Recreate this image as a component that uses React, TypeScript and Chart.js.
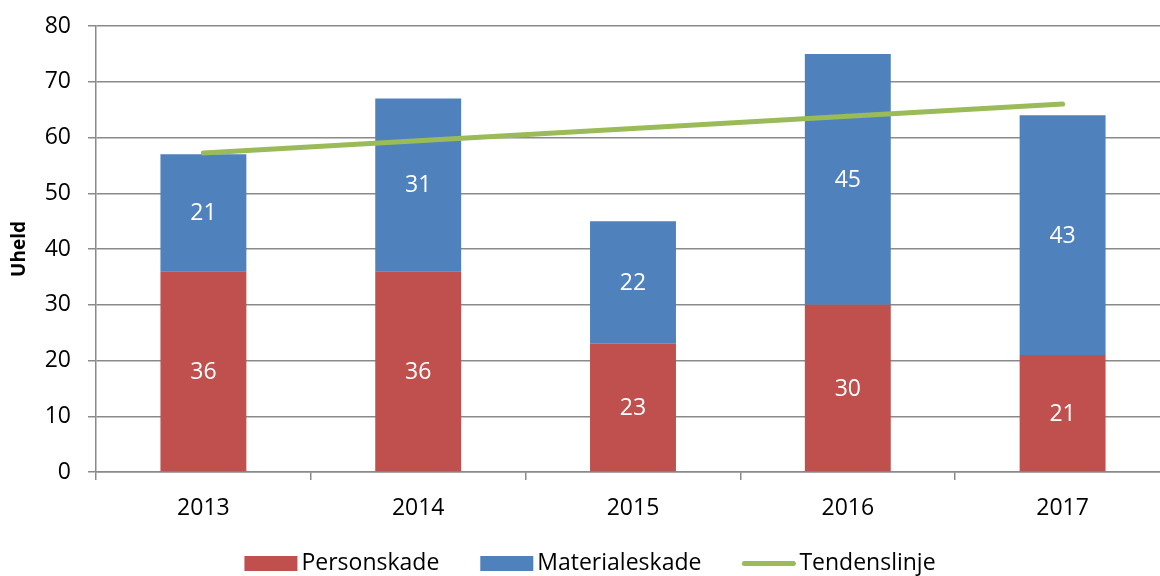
import React, { useEffect, useRef } from "react";
import { Chart, registerables } from "chart.js";

Chart.register(...registerables);

const years = ["2013", "2014", "2015", "2016", "2017"];
const personskade = [36, 36, 23, 30, 21];
const materialeskade = [21, 31, 22, 45, 43];
const tendenslinje = [57.2, 59.4, 61.6, 63.8, 66.0];
const yTicks = [0, 10, 20, 30, 40, 50, 60, 70, 80];

const RED = "#C0504D";
const BLUE = "#4F81BD";
const GREEN = "#9BBB59";
const GRID = "#8a8a8a";
const FONT = "'Open Sans', sans-serif";

const labelPlugin = {
  id: "segLabels",
  afterDatasetsDraw(chart: any) {
    const ctx = chart.ctx;
    ctx.save();
    ctx.fillStyle = "#ffffff";
    ctx.font = `23px ${FONT}`;
    ctx.textAlign = "center";
    ctx.textBaseline = "middle";
    chart.data.datasets.forEach((ds: any, di: number) => {
      if (ds.type !== "bar") return;
      const meta = chart.getDatasetMeta(di);
      meta.data.forEach((el: any, i: number) => {
        const p = el.getProps(["x", "y", "base"], true);
        ctx.fillText(String(ds.data[i]), p.x, (p.y + p.base) / 2 + 1);
      });
    });
    ctx.restore();
  },
};

const legendPlugin = {
  id: "customLegend",
  afterDraw(chart: any) {
    const ctx = chart.ctx;
    ctx.save();
    ctx.font = `23px ${FONT}`;
    ctx.textBaseline = "middle";
    const items = chart.data.datasets.map((ds: any) => ({
      text: ds.label,
      color: ds.type === "line" ? ds.borderColor : ds.backgroundColor,
      line: ds.type === "line",
    }));
    const symW = 53;
    const gap = 4;
    const spacing = 41;
    let total = 0;
    items.forEach((it: any, i: number) => {
      total += symW + gap + ctx.measureText(it.text).width;
      if (i < items.length - 1) total += spacing;
    });
    let x = 590 - total / 2;
    const cy = 563.5;
    items.forEach((it: any) => {
      if (it.line) {
        ctx.strokeStyle = it.color;
        ctx.lineWidth = 5;
        ctx.lineCap = "round";
        ctx.beginPath();
        ctx.moveTo(x + 2, cy);
        ctx.lineTo(x + symW - 2, cy);
        ctx.stroke();
      } else {
        ctx.fillStyle = it.color;
        ctx.fillRect(x, cy - 7.5, symW, 15);
      }
      x += symW + gap;
      ctx.fillStyle = "#000000";
      ctx.fillText(it.text, x, cy);
      x += ctx.measureText(it.text).width + spacing;
    });
    ctx.restore();
  },
};

export default function App() {
  const ref = useRef<HTMLCanvasElement | null>(null);
  useEffect(() => {
    if (!ref.current) return;
    const chart = new Chart(ref.current, {
      type: "bar",
      data: {
        labels: years,
        datasets: [
          {
            type: "bar",
            label: "Personskade",
            data: personskade,
            backgroundColor: RED,
            stack: "s",
            order: 1,
            barPercentage: 0.4,
            categoryPercentage: 1,
          },
          {
            type: "bar",
            label: "Materialeskade",
            data: materialeskade,
            backgroundColor: BLUE,
            stack: "s",
            order: 1,
            barPercentage: 0.4,
            categoryPercentage: 1,
          },
          {
            type: "line",
            label: "Tendenslinje",
            data: tendenslinje,
            borderColor: GREEN,
            backgroundColor: GREEN,
            borderWidth: 5,
            borderCapStyle: "round",
            pointRadius: 0,
            stack: "trend",
            order: 0,
          } as any,
        ],
      },
      options: {
        responsive: false,
        animation: false,
        layout: { padding: { top: 26, right: 0, left: 0, bottom: 0 } },
        plugins: {
          legend: { display: false },
          tooltip: { enabled: false },
        },
        scales: {
          x: {
            stacked: true,
            offset: true,
            grid: {
              offset: true,
              drawOnChartArea: false,
              drawTicks: true,
              tickLength: 8,
              color: GRID,
              lineWidth: 1.5,
            },
            border: { display: true, color: GRID, width: 1.5 },
            ticks: {
              color: "#000000",
              font: { family: FONT, size: 23 },
              padding: 15,
              maxRotation: 0,
            },
            afterFit(scale: any) {
              scale.height = 104;
              scale.paddingLeft = 0;
              scale.paddingRight = 0;
            },
          },
          y: {
            stacked: true,
            min: 0,
            max: 80,
            afterBuildTicks(scale: any) {
              scale.ticks = yTicks.map((v) => ({ value: v }));
            },
            grid: {
              color: GRID,
              lineWidth: 1.5,
              tickLength: 8,
            },
            border: { display: true, color: GRID, width: 1.5 },
            ticks: {
              color: "#000000",
              font: { family: FONT, size: 23 },
              padding: 17,
            },
            title: {
              display: true,
              text: "Uheld",
              color: "#000000",
              font: { family: FONT, size: 19, weight: "bold" },
              padding: { top: 8, bottom: 0 },
            },
            afterFit(scale: any) {
              scale.width = 96;
              scale.paddingTop = 0;
              scale.paddingBottom = 0;
            },
          },
        },
      },
      plugins: [labelPlugin, legendPlugin],
    });
    return () => chart.destroy();
  }, []);
  return (
    <div style={{ position: "fixed", left: 0, top: 0, width: 1160, height: 576, overflow: "hidden", background: "#ffffff" }}>
      <canvas ref={ref} width={1170} height={576} style={{ width: 1170, height: 576, display: "block" }} />
    </div>
  );
}
